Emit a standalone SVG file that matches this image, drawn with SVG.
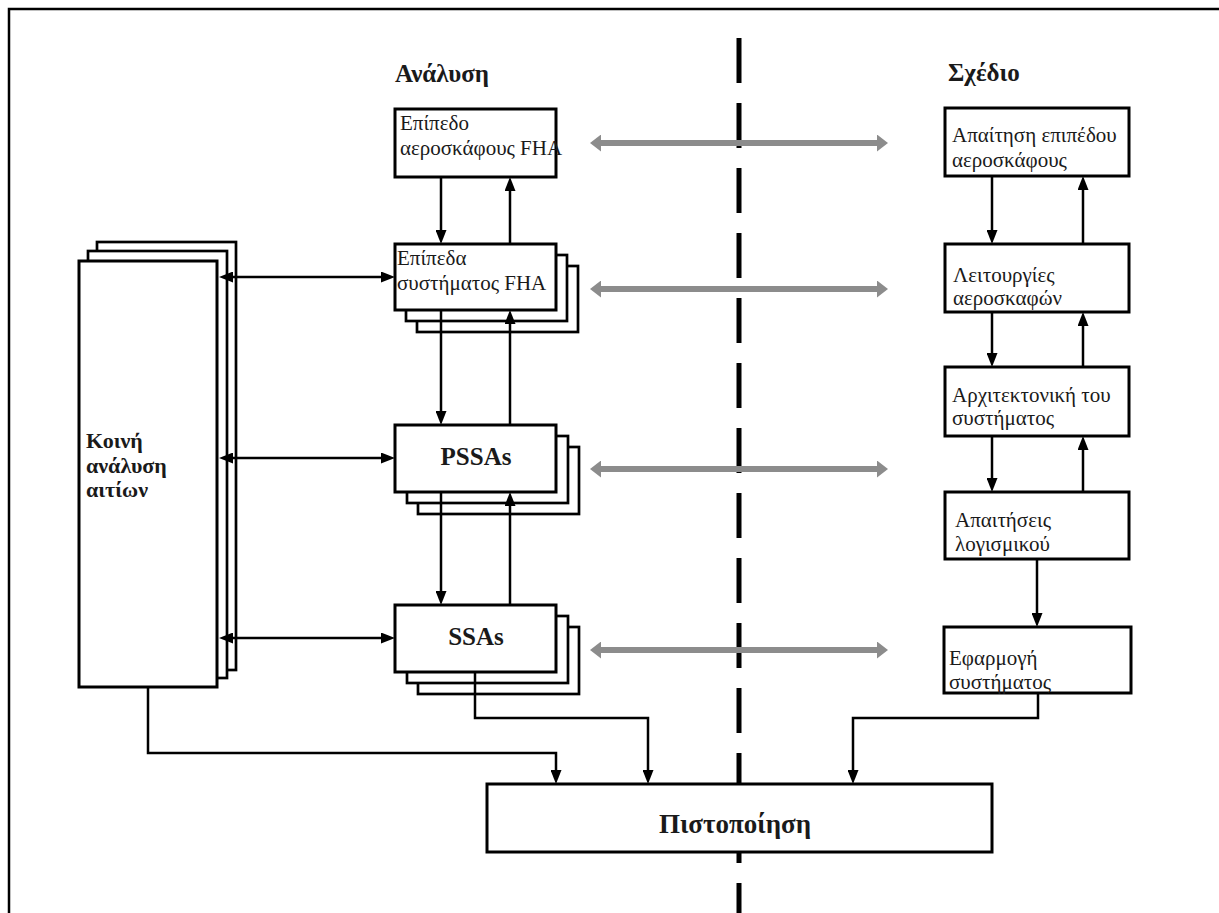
<svg xmlns="http://www.w3.org/2000/svg" width="1219" height="913" viewBox="0 0 1219 913">
  <style>
    .box { fill: #fff; stroke: #000; stroke-width: 3; }
    .layer { fill: #fff; stroke: #000; stroke-width: 2.7; }
    .conn { fill: none; stroke: #000; stroke-width: 2.5; }
    .grey { fill: none; stroke: #8c8c8c; stroke-width: 6; }
    .t { font-family: "Liberation Serif", "DejaVu Serif", serif; font-size: 21px; fill: #1a1a1a; }
    .b { font-family: "Liberation Serif", "DejaVu Serif", serif; font-weight: bold; fill: #1a1a1a; }
  </style>
  <defs>
    <marker id="ah" viewBox="0 0 14 11" refX="2" refY="5.5" markerWidth="14" markerHeight="11" markerUnits="userSpaceOnUse" orient="auto-start-reverse">
      <path d="M0,0 L14,5.5 L0,11 z" fill="#000"/>
    </marker>
    <marker id="gh" viewBox="0 0 11 17" refX="0" refY="8.5" markerWidth="11" markerHeight="17" markerUnits="userSpaceOnUse" orient="auto-start-reverse">
      <path d="M0,0 L11,8.5 L0,17 z" fill="#8c8c8c"/>
    </marker>
  </defs>

  <rect width="1219" height="913" fill="#fff"/>
  <!-- outer frame -->
  <rect x="9" y="9" width="1300" height="1000" fill="none" stroke="#000" stroke-width="2.5"/>

  <!-- divider between analysis and design -->
  <line x1="739" y1="38" x2="739" y2="913" stroke="#000" stroke-width="5" stroke-dasharray="45 20"/>

  <!-- column headings -->
  <text class="b" x="395" y="82" font-size="25">Ανάλυση</text>
  <text class="b" x="948" y="81" font-size="25">Σχέδιο</text>

  <!-- common cause analysis (stacked) -->
  <g id="cca">
    <rect class="layer" x="97" y="242" width="139" height="428"/>
    <rect class="layer" x="88" y="251" width="139" height="427"/>
    <rect class="box" x="79" y="261" width="138" height="426"/>
    <text class="b" font-size="22"><tspan x="86" y="448">Κοινή</tspan><tspan x="86" y="473">ανάλυση</tspan><tspan x="86" y="497">αιτίων</tspan></text>
  </g>

  <g id="aircraft-fha">
    <rect class="box" x="395" y="109" width="161" height="68"/>
    <text class="t"><tspan x="400" y="130">Επίπεδο</tspan><tspan x="400" y="155">αεροσκάφους FHA</tspan></text>
  </g>

  <g id="system-fha">
    <rect class="layer" x="417" y="266" width="161" height="66"/>
    <rect class="layer" x="406" y="255" width="161" height="66"/>
    <rect class="box" x="395" y="244" width="161" height="66"/>
    <text class="t"><tspan x="397" y="265">Επίπεδα</tspan><tspan x="397" y="290">συστήματος FHA</tspan></text>
  </g>

  <g id="pssa">
    <rect class="layer" x="418" y="447" width="161" height="67"/>
    <rect class="layer" x="407" y="436" width="161" height="67"/>
    <rect class="box" x="395" y="425" width="161" height="67"/>
    <text class="b" x="476" y="465" font-size="25" text-anchor="middle">PSSAs</text>
  </g>

  <g id="ssa">
    <rect class="layer" x="418" y="627" width="161" height="67"/>
    <rect class="layer" x="407" y="616" width="161" height="67"/>
    <rect class="box" x="395" y="605" width="161" height="67"/>
    <text class="b" x="476" y="645" font-size="25" text-anchor="middle">SSAs</text>
  </g>

  <g id="aircraft-req">
    <rect class="box" x="945" y="108" width="184" height="68"/>
    <text class="t"><tspan x="952" y="142">Απαίτηση επιπέδου</tspan><tspan x="952" y="167">αεροσκάφους</tspan></text>
  </g>

  <g id="aircraft-functions">
    <rect class="box" x="945" y="244" width="184" height="68"/>
    <text class="t"><tspan x="953" y="282">Λειτουργίες</tspan><tspan x="953" y="305">αεροσκαφών</tspan></text>
  </g>

  <g id="architecture">
    <rect class="box" x="945" y="367" width="184" height="69"/>
    <text class="t"><tspan x="952" y="402">Αρχιτεκτονική του</tspan><tspan x="952" y="425">συστήματος</tspan></text>
  </g>

  <g id="software-req">
    <rect class="box" x="945" y="492" width="184" height="67"/>
    <text class="t"><tspan x="955" y="527">Απαιτήσεις</tspan><tspan x="955" y="551">λογισμικού</tspan></text>
  </g>

  <g id="implementation">
    <rect class="box" x="944" y="627" width="187" height="66"/>
    <text class="t"><tspan x="949" y="665">Εφαρμογή</tspan><tspan x="949" y="689">συστήματος</tspan></text>
  </g>

  <g id="certification">
    <rect class="box" x="487" y="784" width="505" height="68"/>
    <text class="b" x="735" y="833" font-size="27" text-anchor="middle">Πιστοποίηση</text>
  </g>

  <!-- connectors -->
  <g id="connectors">
    <!-- analysis chain -->
    <line class="conn" x1="441" y1="177" x2="441" y2="232" marker-end="url(#ah)"/>
    <line class="conn" x1="510" y1="244" x2="510" y2="189" marker-end="url(#ah)"/>
    <line class="conn" x1="441" y1="310" x2="441" y2="413" marker-end="url(#ah)"/>
    <line class="conn" x1="510" y1="425" x2="510" y2="322" marker-end="url(#ah)"/>
    <line class="conn" x1="441" y1="492" x2="441" y2="593" marker-end="url(#ah)"/>
    <line class="conn" x1="510" y1="605" x2="510" y2="504" marker-end="url(#ah)"/>

    <!-- common cause analysis links -->
    <line class="conn" x1="231" y1="277" x2="383" y2="277" marker-start="url(#ah)" marker-end="url(#ah)"/>
    <line class="conn" x1="231" y1="458" x2="383" y2="458" marker-start="url(#ah)" marker-end="url(#ah)"/>
    <line class="conn" x1="231" y1="638" x2="383" y2="638" marker-start="url(#ah)" marker-end="url(#ah)"/>

    <!-- into certification -->
    <path class="conn" d="M148,687 V753 H556 V772" marker-end="url(#ah)"/>
    <path class="conn" d="M475,672 V718 H648 V772" marker-end="url(#ah)"/>
    <path class="conn" d="M1038,693 V718 H853 V772" marker-end="url(#ah)"/>

    <!-- design chain -->
    <line class="conn" x1="992" y1="176" x2="992" y2="232" marker-end="url(#ah)"/>
    <line class="conn" x1="1083" y1="244" x2="1083" y2="188" marker-end="url(#ah)"/>
    <line class="conn" x1="992" y1="312" x2="992" y2="355" marker-end="url(#ah)"/>
    <line class="conn" x1="1083" y1="367" x2="1083" y2="324" marker-end="url(#ah)"/>
    <line class="conn" x1="992" y1="436" x2="992" y2="480" marker-end="url(#ah)"/>
    <line class="conn" x1="1083" y1="492" x2="1083" y2="448" marker-end="url(#ah)"/>
    <line class="conn" x1="1037" y1="559" x2="1037" y2="615" marker-end="url(#ah)"/>

    <!-- analysis / design correspondence -->
    <line class="grey" x1="601" y1="143" x2="877" y2="143" marker-start="url(#gh)" marker-end="url(#gh)"/>
    <line class="grey" x1="601" y1="289" x2="877" y2="289" marker-start="url(#gh)" marker-end="url(#gh)"/>
    <line class="grey" x1="601" y1="469" x2="877" y2="469" marker-start="url(#gh)" marker-end="url(#gh)"/>
    <line class="grey" x1="601" y1="650" x2="877" y2="650" marker-start="url(#gh)" marker-end="url(#gh)"/>
  </g>
</svg>
